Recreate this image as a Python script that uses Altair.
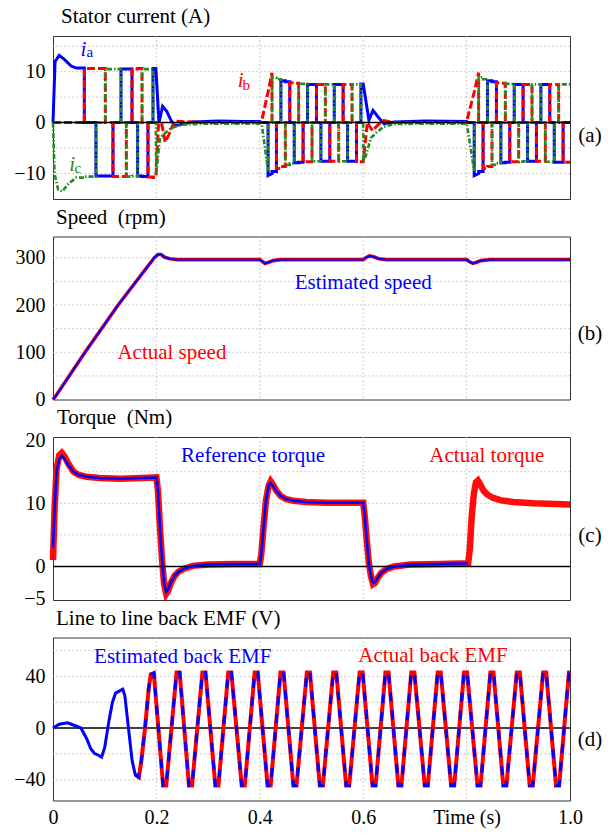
import altair as alt
import pandas as pd

FONT = "Liberation Serif"
BLUE = "#0000ff"
RED = "#ff0000"
GREEN = "#228b22"
GRID_COLOR = "#bdbdbd"
W, H = 517, 163

TIME_TICKS = [0, 0.2, 0.4, 0.6, 0.8, 1.0]
TIME_GRID = [0.2, 0.4, 0.6, 0.8]

# ---------------- (a) stator current ----------------
CUR_DOMAIN = [-15, 17]
CUR_TICKS = [-10, 0, 10]
CUR_GRID = [-10, -5, 5, 10, 15]

# 120-degree conduction table: (positive phase, negative phase) per 60-degree sector
SECTOR_POS = ["A", "B", "B", "C", "C", "A"]
SECTOR_NEG = ["C", "C", "A", "A", "B", "B"]

SEG1_BOUNDS = [0.045, 0.0606, 0.0831, 0.1012, 0.116, 0.1315, 0.1418, 0.1528,
               0.1637, 0.1722, 0.1837, 0.1934, 0.199]
SEG1_POS = [10.7, 10.6, 10.6, 10.5, 10.5, 10.5, 10.5, 10.5, 10.6, 10.5, 10.5, 10.6]
SEG1_NEG = [10.8, 10.6, 10.5, 10.5, 10.6, 10.6, 10.6, 10.5, 10.5, 10.6, 10.7, 10.8]

SEG2_BOUNDS = [0.404, 0.416, 0.4236, 0.4322, 0.4408, 0.4494, 0.458, 0.4666, 0.4752,
               0.4838, 0.4924, 0.501, 0.5096, 0.5182, 0.5268, 0.5354, 0.544, 0.5526,
               0.5612, 0.5698, 0.5784, 0.587, 0.5956, 0.6]
SEG2_POS = [(0.5, 6.0), (6.0, 9.8), 8.8, 8.5, 8.2, 8.0, 7.8, 7.7, 7.6, 7.6, 7.5, 7.5,
            7.5, 7.5, 7.5, 7.5, 7.5, 7.5, 7.5, 7.5, 7.5, 7.5, 7.6]
SEG2_NEG = [(0.5, 9.5), (10.4, 10.0), 9.6, 9.0, 8.6, 8.3, 8.0, 7.9, 7.8, 7.7, 7.7,
            7.6, 7.6, 7.6, 7.6, 7.6, 7.6, 7.6, 7.6, 7.6, 7.6, 7.7, 7.7]

SEG3_BOUNDS = [0.8008, 0.8147, 0.8233, 0.8319, 0.8405, 0.8491, 0.8577, 0.8663, 0.8749,
               0.8835, 0.8921, 0.9007, 0.9093, 0.9179, 0.9265, 0.9351, 0.9437, 0.9523,
               0.9609, 0.9695, 0.9781, 0.9867, 1.0]
SEG3_POS = [(0.5, 6.0), (6.0, 9.8), 8.9, 8.5, 8.2, 8.0, 7.8, 7.7, 7.6, 7.6, 7.5, 7.5,
            7.5, 7.5, 7.5, 7.5, 7.5, 7.5, 7.5, 7.5, 7.5, 7.5]
SEG3_NEG = [(0.5, 9.5), (10.4, 10.0), 9.6, 9.0, 8.6, 8.3, 8.0, 7.9, 7.8, 7.7, 7.7,
            7.7, 7.6, 7.6, 7.6, 7.6, 7.6, 7.7, 7.7, 7.8, 7.8, 7.8]

# (start sector, boundaries, positive levels, negative levels)
SEGMENTS = [(0, SEG1_BOUNDS, SEG1_POS, SEG1_NEG),
            (1, SEG2_BOUNDS, SEG2_POS, SEG2_NEG),
            (1, SEG3_BOUNDS, SEG3_POS, SEG3_NEG)]

# start-up / transient points
EXTRA_A = [(0.0, 0.0), (0.004, 12.0), (0.012, 13.2), (0.022, 12.4), (0.035, 11.1),
           (0.205, 0.0), (0.212, 3.2), (0.22, 2.2), (0.228, 0.5), (0.236, -0.6),
           (0.25, -0.3), (0.27, 0.1), (0.32, 0.3), (0.37, 0.2), (0.4, 0.2),
           (0.611, 0.5), (0.619, 2.4), (0.628, 1.2), (0.64, -0.2), (0.66, 0.1),
           (0.72, 0.3), (0.8, 0.2)]
EXTRA_B = [(0.0, 0.0),
           (0.204, -0.5), (0.21, 0.0), (0.217, -3.8), (0.224, -2.4), (0.235, 0.3),
           (0.25, 0.2), (0.3, 0.0), (0.4, 0.0),
           (0.608, 0.0), (0.618, -1.6), (0.628, -0.5), (0.64, 0.4), (0.66, 0.0),
           (0.8, 0.0)]
EXTRA_C = [(0.0, 0.0), (0.003, -10.0), (0.01, -13.2), (0.018, -13.5), (0.03, -12.0),
           (0.04, -11.2),
           (0.1995, -10.0), (0.207, -3.0), (0.215, -2.2), (0.23, -1.0), (0.25, -0.4),
           (0.3, -0.2), (0.4, -0.2),
           (0.6005, -7.6), (0.605, -6.5), (0.615, -3.0), (0.625, -2.0), (0.64, -0.8),
           (0.66, -0.3), (0.72, -0.2), (0.8, -0.2)]

CUR_ITALIC = pd.DataFrame({"t": [0.059, 0.363, 0.037], "v": [13.1, 6.9, -9.5],
                           "s": ["i", "i", "i"], "c": [BLUE, RED, GREEN]})
CUR_SUB = pd.DataFrame({"t": [0.071, 0.374, 0.048], "v": [12.8, 6.4, -9.8],
                        "s": ["a", "b", "c"], "c": [BLUE, RED, GREEN]})

# ---------------- (b) speed ----------------
SPD_DOMAIN = [0, 345]
SPD_TICKS = [0, 100, 200, 300]
SPD_GRID = [50, 100, 150, 200, 250, 300]
SPD_T = [0, 0.005, 0.062, 0.126, 0.196, 0.203, 0.209, 0.216, 0.226, 0.24,
         0.4, 0.405, 0.41, 0.416, 0.426, 0.44, 0.6, 0.605, 0.612, 0.62, 0.63, 0.645,
         0.8, 0.805, 0.812, 0.818, 0.828, 0.845, 1.0]
SPD_ACT = [0, 7, 100, 200, 300, 307, 307, 301, 298, 296,
           296, 292, 288, 290, 294, 296, 296, 300, 304, 302, 298, 296,
           296, 292, 288, 290, 294, 296, 296]
SPD_EST = [0, 7, 100, 200, 300, 307, 307, 301, 298, 296,
           296, 292, 288, 290, 294, 296, 296, 300, 304, 302, 298, 296,
           296, 292, 288, 290, 294, 296, 296]
SPD_LABELS = pd.DataFrame({"t": [0.60, 0.23], "v": [246, 98],
                           "s": ["Estimated speed", "Actual speed"], "c": [BLUE, RED]})

# ---------------- (c) torque ----------------
TQ_DOMAIN = [-5.3, 20.5]
TQ_TICKS = [-5, 0, 10, 20]
TQ_GRID = [5, 10, 15]
TQ_T = [0, 0.003, 0.007, 0.012, 0.017, 0.022, 0.03, 0.04, 0.05, 0.065, 0.09, 0.13, 0.17, 0.2,
        0.203, 0.207, 0.211, 0.215, 0.219, 0.223, 0.228, 0.235, 0.243, 0.255, 0.27, 0.3, 0.35, 0.4,
        0.403, 0.407, 0.412, 0.417, 0.421, 0.426, 0.432, 0.44, 0.45, 0.465, 0.49, 0.53, 0.6,
        0.603, 0.607, 0.611, 0.615, 0.619, 0.623, 0.628, 0.635, 0.645, 0.66, 0.69, 0.75, 0.803,
        0.806, 0.81, 0.814, 0.818, 0.822, 0.827, 0.833, 0.84, 0.85, 0.865, 0.89, 0.93, 1.0]
TQ_ACT = [1.0, 9.0, 15.5, 17.6, 18.0, 17.5, 16.2, 15.0, 14.5, 14.2, 14.0, 13.9, 14.0, 14.1,
          12.0, 6.0, 1.0, -2.8, -4.3, -3.8, -2.6, -1.5, -0.8, -0.3, 0.1, 0.3, 0.4, 0.4,
          2.0, 6.0, 10.5, 12.8, 13.5, 12.9, 12.0, 11.2, 10.7, 10.4, 10.2, 10.1, 10.1,
          8.0, 4.0, 0.5, -1.5, -2.8, -2.6, -1.8, -1.0, -0.4, 0.0, 0.3, 0.4, 0.5,
          2.5, 8.0, 11.5, 13.3, 13.6, 12.9, 12.0, 11.4, 10.9, 10.5, 10.2, 10.0, 9.8]
TQ_REF = [3.0, 9.0, 15.0, 17.0, 17.5, 17.1, 16.0, 15.0, 14.5, 14.2, 14.0, 13.9, 14.0, 14.1,
          12.0, 6.0, 1.0, -2.6, -4.0, -3.6, -2.5, -1.5, -0.8, -0.3, 0.1, 0.3, 0.4, 0.4,
          2.0, 6.0, 10.5, 12.8, 13.2, 12.7, 12.0, 11.2, 10.7, 10.4, 10.2, 10.1, 10.1,
          8.0, 4.0, 0.5, -1.5, -2.6, -2.5, -1.8, -1.0, -0.4, 0.0, 0.3, 0.4, 0.5,
          None, None, None, None, None, None, None, None, None, None, None, None, None]
TQ_LABELS = pd.DataFrame({"t": [0.387, 0.839], "v": [17.5, 17.5],
                          "s": ["Reference torque", "Actual torque"], "c": [BLUE, RED]})

# ---------------- (d) back EMF ----------------
EMF_DOMAIN = [-56, 70]
EMF_TICKS = [-40, 0, 40]
EMF_GRID = [-40, -20, 20, 40, 60]
EMF_T = [0, 0.012, 0.028, 0.042, 0.054, 0.065, 0.073, 0.08, 0.088, 0.094, 0.1, 0.108,
         0.115, 0.121, 0.128, 0.135, 0.139, 0.146, 0.153, 0.159, 0.166, 0.171, 0.178,
         0.185, 0.189, 0.195,
         0.213, 0.219, 0.239, 0.245, 0.263, 0.269, 0.289, 0.295, 0.314, 0.320,
         0.339, 0.345, 0.365, 0.371, 0.390, 0.396, 0.415, 0.421, 0.440, 0.446,
         0.465, 0.471, 0.491, 0.497, 0.516, 0.522, 0.542, 0.548, 0.567, 0.573,
         0.593, 0.599, 0.618, 0.624, 0.643, 0.649, 0.668, 0.674, 0.693, 0.699,
         0.719, 0.725, 0.744, 0.750, 0.770, 0.776, 0.795, 0.801, 0.821, 0.827,
         0.846, 0.852, 0.871, 0.877, 0.897, 0.903, 0.922, 0.928, 0.948, 0.954,
         0.973, 0.979, 0.998, 1.0]
EMF_V = [0, 3.0, 4.0, 2.0, 0, -8, -16, -19.5, -21, -22.5, -15, 5,
         20, 27, 28.5, 30, 25, 0, -25, -36, -38, -25, 0,
         30, 41.5, 42.5,
         -44.5, -44.5, 43, 43, -44.5, -44.5, 43, 43, -44.5, -44.5,
         43, 43, -44.5, -44.5, 43, 43, -44.5, -44.5, 43, 43,
         -44.5, -44.5, 43, 43, -44.5, -44.5, 43, 43, -44.5, -44.5,
         43, 43, -44.5, -44.5, 43, 43, -44.5, -44.5, 43, 43,
         -44.5, -44.5, 43, 43, -44.5, -44.5, 43, 43, -44.5, -44.5,
         43, 43, -44.5, -44.5, 43, 43, -44.5, -44.5, 43, 43,
         -44.5, -44.5, 43, 43]
EMF_LABELS = pd.DataFrame({"t": [0.251, 0.735], "v": [55, 55.5],
                           "s": ["Estimated back EMF", "Actual back EMF"], "c": [BLUE, RED]})

PANEL_TITLES = ["Stator current (A)", "Speed\u00a0 (rpm)", "Torque\u00a0 (Nm)",
                "Line to line back EMF (V)"]
TITLE_DX = [8, 3, 4, 3]
PANEL_TAGS = ["(a)", "(b)", "(c)", "(d)"]
TAG_VALUES = [-2.6, 139, 4.85, -9.4]


# ---------------- helpers ----------------
def phase_table():
    rows = []
    for ph, extras in (("A", EXTRA_A), ("B", EXTRA_B), ("C", EXTRA_C)):
        pts = []
        for start, bounds, pos, neg in SEGMENTS:
            for k in range(len(bounds) - 1):
                idx = (start + k) % 6
                if SECTOR_POS[idx] == ph:
                    lv, sgn = pos[k], 1
                elif SECTOR_NEG[idx] == ph:
                    lv, sgn = neg[k], -1
                else:
                    lv, sgn = 0, 0
                v0, v1 = lv if isinstance(lv, tuple) else (lv, lv)
                pts.append((bounds[k], sgn * v0))
                pts.append((bounds[k + 1], sgn * v1))
        pts += list(extras)
        pts.sort(key=lambda p: p[0])
        for i, (t, v) in enumerate(pts):
            rows.append({"t": t, "v": v, "phase": ph, "i": i})
    return pd.DataFrame(rows)


def xenc(field="t", show=False):
    if show:
        axis = alt.Axis(values=TIME_TICKS, grid=False, ticks=False, domain=False,
                        labelFont=FONT, labelFontSize=20, labelColor="black",
                        labelPadding=7, labelFlush=False, labelOverlap=False, title=None,
                        labelExpr="datum.value == 0 ? '0' : (abs(datum.value - 0.8) < 0.001 ? 'Time (s)' : format(datum.value, '.1f'))")
    else:
        axis = None
    return alt.X(f"{field}:Q", scale=alt.Scale(domain=[0, 1], nice=False, zero=False), axis=axis)


def yenc(field, dom, ticks):
    return alt.Y(f"{field}:Q", scale=alt.Scale(domain=dom, nice=False, zero=False),
                 axis=alt.Axis(values=ticks, grid=False, ticks=False, domain=False,
                               labelFont=FONT, labelFontSize=20, labelColor="black",
                               labelPadding=8, labelOverlap=False, title=None))


def common_layers(k, dom, ticks, hgrid, show_x, zero_line):
    hg = alt.Chart(pd.DataFrame({"g": hgrid})).mark_rule(
        color=GRID_COLOR, strokeDash=[1.5, 2.5], strokeWidth=1).encode(y=yenc("g", dom, ticks))
    vg = alt.Chart(pd.DataFrame({"g": TIME_GRID})).mark_rule(
        color=GRID_COLOR, strokeDash=[1.5, 2.5], strokeWidth=1).encode(x=xenc("g", show_x))
    title = alt.Chart(pd.DataFrame({"s": [PANEL_TITLES[k]]})).mark_text(
        align="left", baseline="alphabetic", font=FONT, fontSize=21, color="black").encode(
        x=alt.value(TITLE_DX[k]), y=alt.value(-13), text="s:N")
    tag = alt.Chart(pd.DataFrame({"v": [TAG_VALUES[k]], "s": [PANEL_TAGS[k]]})).mark_text(
        align="center", baseline="middle", font=FONT, fontSize=21, color="black").encode(
        x=alt.value(W + 20), y=yenc("v", dom, ticks), text="s:N")
    front = [title, tag]
    if zero_line:
        front.insert(0, alt.Chart(pd.DataFrame({"z": [0]})).mark_rule(
            color="black", strokeWidth=1.5).encode(y=yenc("z", dom, ticks)))
    return [hg, vg], front


def text_layer(df, dom, ticks, show_x, size=21):
    return alt.Chart(df).mark_text(align="center", baseline="middle", font=FONT,
                                   fontSize=size).encode(
        x=xenc("t", show_x), y=yenc("v", dom, ticks), text="s:N",
        color=alt.Color("c:N", scale=None))


# ---------------- panel (a) ----------------
cur = phase_table()
back, front = common_layers(0, CUR_DOMAIN, CUR_TICKS, CUR_GRID, False, True)
styles = {"A": dict(color=BLUE, strokeWidth=3),
          "B": dict(color=RED, strokeWidth=3, strokeDash=[8, 3]),
          "C": dict(color=GREEN, strokeWidth=2.6, strokeDash=[5, 2, 1.5, 2])}
traces = []
for ph in ["A", "B", "C"]:
    traces.append(alt.Chart(cur).transform_filter(alt.datum.phase == ph).mark_line(
        **styles[ph]).encode(x=xenc("t"), y=yenc("v", CUR_DOMAIN, CUR_TICKS),
                             order=alt.Order("i:Q")))
ital = alt.Chart(CUR_ITALIC).mark_text(align="center", baseline="alphabetic", font=FONT,
                                       fontSize=21, fontStyle="italic").encode(
    x=xenc("t"), y=yenc("v", CUR_DOMAIN, CUR_TICKS), text="s:N",
    color=alt.Color("c:N", scale=None))
sub = alt.Chart(CUR_SUB).mark_text(align="center", baseline="alphabetic", font=FONT,
                                   fontSize=15).encode(
    x=xenc("t"), y=yenc("v", CUR_DOMAIN, CUR_TICKS), text="s:N",
    color=alt.Color("c:N", scale=None))
panel_a = alt.layer(*back, *traces, *front, ital, sub).properties(width=W, height=H)

# ---------------- panel (b) ----------------
spd = pd.DataFrame({"t": SPD_T, "act": SPD_ACT, "est": SPD_EST})
back, front = common_layers(1, SPD_DOMAIN, SPD_TICKS, SPD_GRID, False, False)
sp_act = alt.Chart(spd).mark_line(color=RED, strokeWidth=3.6).encode(
    x=xenc("t"), y=yenc("act", SPD_DOMAIN, SPD_TICKS))
sp_est = alt.Chart(spd).mark_line(color=BLUE, strokeWidth=2).encode(
    x=xenc("t"), y=yenc("est", SPD_DOMAIN, SPD_TICKS))
panel_b = alt.layer(*back, sp_act, sp_est, *front,
                    text_layer(SPD_LABELS, SPD_DOMAIN, SPD_TICKS, False)).properties(width=W, height=H)

# ---------------- panel (c) ----------------
tq = pd.DataFrame({"t": TQ_T, "act": TQ_ACT, "ref": TQ_REF})
back, front = common_layers(2, TQ_DOMAIN, TQ_TICKS, TQ_GRID, False, True)
tq_act = alt.Chart(tq).mark_line(color=RED, strokeWidth=6.5, opacity=0.95).encode(
    x=xenc("t"), y=yenc("act", TQ_DOMAIN, TQ_TICKS))
tq_ref = alt.Chart(tq).mark_line(color=BLUE, strokeWidth=2.5).encode(
    x=xenc("t"), y=yenc("ref", TQ_DOMAIN, TQ_TICKS))
panel_c = alt.layer(*back, tq_act, front[0], tq_ref, *front[1:],
                    text_layer(TQ_LABELS, TQ_DOMAIN, TQ_TICKS, False)).properties(width=W, height=H)

# ---------------- panel (d) ----------------
emf = pd.DataFrame({"t": EMF_T, "v": EMF_V})
back, front = common_layers(3, EMF_DOMAIN, EMF_TICKS, EMF_GRID, True, True)
emf_est_early = alt.Chart(emf).transform_filter(alt.datum.t <= 0.172).mark_line(
    color=BLUE, strokeWidth=3).encode(x=xenc("t", True), y=yenc("v", EMF_DOMAIN, EMF_TICKS))
emf_act = alt.Chart(emf).transform_filter(alt.datum.t >= 0.159).mark_line(
    color=RED, strokeWidth=4).encode(x=xenc("t", True), y=yenc("v", EMF_DOMAIN, EMF_TICKS))
emf_est = alt.Chart(emf).transform_filter(alt.datum.t >= 0.159).mark_line(
    color=BLUE, strokeWidth=3, strokeDash=[9, 9]).encode(
    x=xenc("t", True), y=yenc("v", EMF_DOMAIN, EMF_TICKS))
panel_d = alt.layer(*back, front[0], emf_est_early, emf_act, emf_est, *front[1:],
                    text_layer(EMF_LABELS, EMF_DOMAIN, EMF_TICKS, True)).properties(width=W, height=H)

chart = alt.vconcat(panel_a, panel_b, panel_c, panel_d, spacing=37.5, bounds="flush").properties(
    padding={"left": 13, "top": 5, "right": 4, "bottom": 4},
    background="white",
).configure_view(stroke="#333333", strokeWidth=1)

chart.save("out.html", embed_options={"renderer": "svg", "actions": False})
